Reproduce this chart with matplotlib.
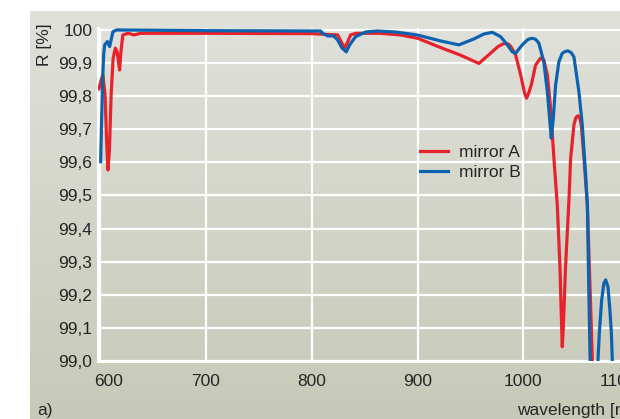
import numpy as np
import matplotlib
matplotlib.use('Agg')
import matplotlib.pyplot as plt
from matplotlib.colors import LinearSegmentedColormap
from matplotlib.transforms import ScaledTranslation

# mirror A, reflectance in % over wavelength in nm
wl_a = [598.9, 600.9, 602.6, 604.7, 606.1, 607.4, 608.8, 610.4, 612.3, 614.4,
        616.1, 618.4, 619.8, 621.5, 626.3, 628.8, 631.9, 638.3, 700.0, 800.0,
        824.5, 827.7, 831.0, 833.4, 836.7, 841.4, 865.0, 884.0, 900.0, 921.7,
        940.6, 957.9, 969.0, 976.0, 980.0, 983.2, 986.0, 988.1, 992.6, 997.4,
        1001.0, 1003.0, 1005.0, 1007.4, 1011.5, 1016.2, 1019.3, 1022.6, 1025.7, 1028.8,
        1032.0, 1034.5, 1036.1, 1036.7, 1037.7, 1039.8, 1043.0, 1044.6, 1047.7, 1049.5,
        1051.5, 1053.3, 1054.7, 1057.2, 1060.4, 1062.8, 1065.1, 1066.3, 1068.0]
r_a = [99.822, 99.849, 99.864, 99.804, 99.668, 99.577, 99.637, 99.804, 99.915, 99.945,
       99.934, 99.879, 99.940, 99.985, 99.990, 99.988, 99.985, 99.990, 99.990, 99.989,
       99.985, 99.965, 99.945, 99.960, 99.985, 99.990, 99.990, 99.985, 99.975, 99.947,
       99.924, 99.899, 99.930, 99.950, 99.957, 99.960, 99.957, 99.950, 99.925, 99.864,
       99.810, 99.794, 99.810, 99.834, 99.894, 99.915, 99.909, 99.864, 99.763, 99.612,
       99.471, 99.285, 99.104, 99.043, 99.104, 99.285, 99.486, 99.612, 99.713, 99.735,
       99.741, 99.733, 99.713, 99.612, 99.471, 99.235, 99.003, 98.920, 98.700]

# mirror B
wl_b = [600.5, 601.4, 602.4, 603.3, 604.3, 606.8, 609.0, 610.4, 612.1, 615.6,
        620.0, 700.0, 808.4, 810.2, 815.0, 820.6, 824.4, 828.7, 832.6, 835.8,
        841.4, 850.9, 861.9, 879.2, 899.7, 921.7, 939.0, 953.2, 962.7, 970.6,
        978.4, 984.8, 989.5, 992.6, 998.9, 1003.7, 1005.5, 1008.4, 1011.5, 1014.6,
        1019.3, 1022.6, 1025.0, 1026.3, 1028.2, 1030.4, 1033.5, 1036.7, 1039.5, 1042.0,
        1045.0, 1047.7, 1052.4, 1055.6, 1058.8, 1060.4, 1061.4, 1062.5, 1063.5, 1066.5,
        1069.8, 1070.4, 1071.7, 1073.9, 1076.0, 1077.7, 1079.9, 1081.7, 1083.1, 1084.0,
        1084.6]
r_b = [99.602, 99.728, 99.849, 99.924, 99.955, 99.965, 99.950, 99.970, 99.995, 100.0,
       100.0, 99.998, 99.997, 99.990, 99.982, 99.982, 99.970, 99.945, 99.934, 99.955,
       99.980, 99.994, 99.997, 99.994, 99.985, 99.967, 99.955, 99.973, 99.988, 99.993,
       99.980, 99.955, 99.934, 99.930, 99.955, 99.970, 99.973, 99.975, 99.972, 99.960,
       99.903, 99.814, 99.723, 99.673, 99.733, 99.834, 99.904, 99.930, 99.935, 99.937,
       99.932, 99.919, 99.814, 99.713, 99.562, 99.471, 99.285, 99.084, 98.940, 98.500,
       98.920, 99.000, 99.084, 99.184, 99.235, 99.245, 99.224, 99.154, 99.084, 99.000,
       98.920]

x_ticks = [600, 700, 800, 900, 1000, 1100]
y_ticks = [99.0, 99.1, 99.2, 99.3, 99.4, 99.5, 99.6, 99.7, 99.8, 99.9, 100.0]
y_labels = ['99,0', '99,1', '99,2', '99,3', '99,4', '99,5',
            '99,6', '99,7', '99,8', '99,9', '100']

plt.rcParams['font.family'] = ['Liberation Sans Narrow', 'Liberation Sans', 'DejaVu Sans']
txt = '#262626'
red = '#e8222b'
blue = '#0b63b0'

W, H = 620, 419
fig = plt.figure(figsize=(W / 100, H / 100), dpi=100)
fig.patch.set_facecolor('white')

# grey gradient panel behind everything
bg = fig.add_axes([30 / W, 0, (W - 30) / W, (H - 11) / H], zorder=0)
cmap = LinearSegmentedColormap.from_list('panel', ['#e0e1db', '#c7c9b8'])
bg.imshow(np.linspace(0, 1, 256).reshape(-1, 1), aspect='auto', cmap=cmap,
          extent=[0, 1, 0, 1])
bg.set_axis_off()

x0, x1 = 598, 1100
y0, y1 = 99.0, 100.006
pxnm = 1.0583
pxr = 331
ax = fig.add_axes([98 / W, (H - 361) / H, (x1 - x0) * pxnm / W, (y1 - y0) * pxr / H],
                  zorder=1)
ax.set_facecolor('none')

ax.plot(wl_a, r_a, color=red, lw=2.3, solid_joinstyle='round', label='mirror A', zorder=3)
ax.plot(wl_b, r_b, color=blue, lw=2.3, solid_joinstyle='round', label='mirror B', zorder=4)

ax.set_xlim(x0, x1)
ax.set_ylim(y0, y1)
ax.set_xticks(x_ticks)
ax.set_yticks(y_ticks)
ax.set_yticklabels(y_labels)
ax.grid(True, color='white', lw=1.6)
ax.set_axisbelow(True)
for s in ['top', 'right']:
    ax.spines[s].set_visible(False)
for s in ['left', 'bottom']:
    ax.spines[s].set_color('white')
    ax.spines[s].set_linewidth(2.2)
ax.tick_params(length=0, labelsize=12.5, labelcolor=txt)
ax.tick_params(axis='x', pad=9)
ax.tick_params(axis='y', pad=4)

# nudge the end labels like the printed figure does
xl = ax.get_xticklabels()
xl[0].set_transform(xl[0].get_transform() + ScaledTranslation(8 / 100, 0, fig.dpi_scale_trans))
xl[-1].set_transform(xl[-1].get_transform() + ScaledTranslation(-11 / 100, 0, fig.dpi_scale_trans))

leg = ax.legend(loc='upper left', bbox_to_anchor=(420 / W, (H - 145) / H),
                bbox_transform=fig.transFigure, frameon=False, fontsize=12.5,
                borderpad=0, borderaxespad=0, handlelength=1.6, handletextpad=0.65,
                labelspacing=0.25)
for t in leg.get_texts():
    t.set_color(txt)

fig.text(45 / W, 1 - 45 / H, 'R [%]', rotation=90, ha='center', va='center',
         fontsize=12.5, color=txt)
fig.text(37 / W, 1 - 410 / H, 'a)', ha='left', va='center', fontsize=12.5, color=txt)
fig.text(517 / W, 1 - 410 / H, 'wavelength [nm]', ha='left', va='center',
         fontsize=12.5, color=txt)

fig.savefig('out.png', dpi=100)
